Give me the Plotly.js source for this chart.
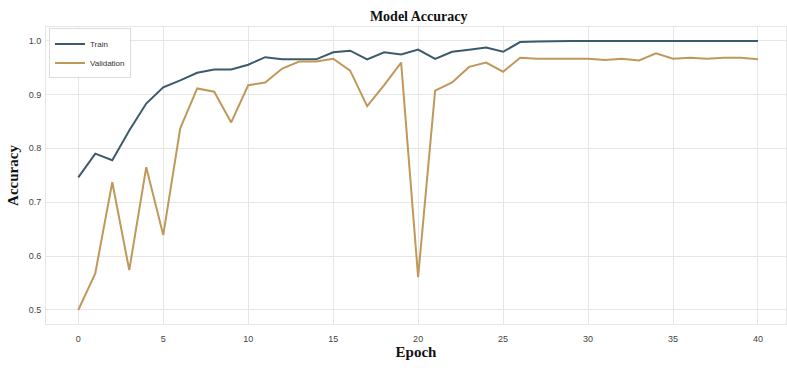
<!DOCTYPE html>
<html>
<head>
<meta charset="utf-8">
<script src="https://cdn.plot.ly/plotly-3.0.1.min.js"></script>
<style>
  html, body { margin: 0; padding: 0; background: #ffffff; }
  #chart { width: 787px; height: 368px; }
</style>
</head>
<body>
<div id="chart"></div>
<script>
// Training history: accuracy per epoch
const epochs = Array.from({length: 41}, (_, i) => i);

const trainAcc = [
  0.746, 0.790, 0.778, 0.833, 0.883, 0.913, 0.926, 0.940, 0.946, 0.946,
  0.955, 0.969, 0.965, 0.965, 0.965, 0.978, 0.981, 0.965, 0.978, 0.974,
  0.983, 0.966, 0.979, 0.983, 0.987, 0.979, 0.997, 0.998, 0.999, 0.999,
  0.999, 0.999, 0.999, 0.999, 0.999, 0.999, 0.999, 0.999, 1.000, 0.999,
  0.999
];

const valAcc = [
  0.500, 0.568, 0.737, 0.574, 0.765, 0.639, 0.837, 0.911, 0.905, 0.848,
  0.917, 0.922, 0.948, 0.961, 0.961, 0.966, 0.944, 0.878, 0.917, 0.959,
  0.561, 0.907, 0.922, 0.951, 0.959, 0.942, 0.968, 0.966, 0.966, 0.966,
  0.966, 0.964, 0.966, 0.963, 0.976, 0.966, 0.968, 0.966, 0.968, 0.968,
  0.965
];

const yTicks = [0.5, 0.6, 0.7, 0.8, 0.9, 1.0];
const yTickText = ['0.5', '0.6', '0.7', '0.8', '0.9', '1.0'];

const traces = [
  {
    x: epochs, y: trainAcc, name: 'Train', type: 'scatter', mode: 'lines',
    line: {color: '#3b5a6b', width: 2}
  },
  {
    x: epochs, y: valAcc, name: 'Validation', type: 'scatter', mode: 'lines',
    line: {color: '#c0985a', width: 2}
  }
];

const tickFont = {family: 'Liberation Sans, Arial, sans-serif', size: 9, color: '#444444'};
const labelFont = {family: 'Liberation Serif, Times New Roman, serif', size: 15, color: '#111111'};

const layout = {
  width: 787, height: 368,
  margin: {l: 46, r: 1, t: 27, b: 44},
  paper_bgcolor: '#ffffff',
  plot_bgcolor: '#ffffff',
  title: {
    text: '<b>Model Accuracy</b>',
    font: {family: 'Liberation Serif, Times New Roman, serif', size: 14, color: '#111111'},
    x: 0.532, xanchor: 'center', y: 0.955, yanchor: 'middle'
  },
  xaxis: {
    range: [-1.9, 41.65],
    tick0: 0, dtick: 5,
    showgrid: true, gridcolor: '#e6e6e6', gridwidth: 1,
    zeroline: false,
    showline: true, linecolor: '#e6e6e6', linewidth: 1, mirror: true,
    ticks: '', ticklen: 0,
    ticklabelstandoff: 6,
    tickfont: tickFont,
    title: {text: '<b>Epoch</b>', font: labelFont, standoff: 2}
  },
  yaxis: {
    range: [0.474, 1.025],
    tickvals: yTicks, ticktext: yTickText,
    showgrid: true, gridcolor: '#e6e6e6', gridwidth: 1,
    zeroline: false,
    showline: true, linecolor: '#e6e6e6', linewidth: 1, mirror: true,
    ticks: '', ticklen: 0,
    ticklabelstandoff: 2,
    tickfont: tickFont,
    title: {text: '<b>Accuracy</b>', font: labelFont, standoff: 6}
  },
  showlegend: true,
  legend: {
    x: 0.004, y: 0.995, xanchor: 'left', yanchor: 'top',
    bgcolor: 'rgba(255,255,255,0.9)',
    bordercolor: '#dddddd', borderwidth: 1,
    font: {family: 'Liberation Sans, Arial, sans-serif', size: 8, color: '#333333'},
    itemwidth: 30,
    tracegroupgap: 0
  }
};

Plotly.newPlot('chart', traces, layout, {displayModeBar: false, staticPlot: true});
</script>
</body>
</html>
